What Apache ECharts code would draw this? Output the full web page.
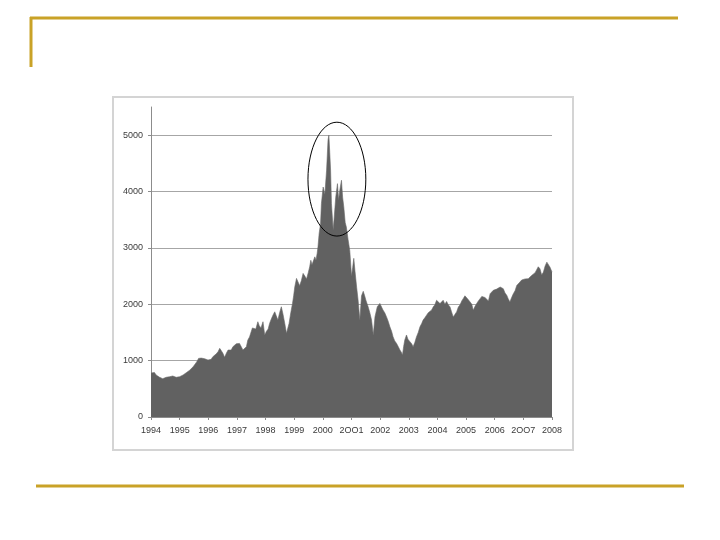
<!DOCTYPE html>
<html>
<head>
<meta charset="utf-8">
<script src="https://cdn.jsdelivr.net/npm/echarts@6/dist/echarts.min.js"></script>
<style>
html,body{margin:0;padding:0;background:#fff;}
#chart{width:720px;height:540px;}
</style>
</head>
<body>
<div id="chart"></div>
<script>
// Decimal years (time positions) of the index readings
var years = [
1994.00,1994.06,1994.12,1994.18,1994.24,1994.30,1994.36,1994.41,1994.47,1994.53,1994.59,1994.65,1994.70,1994.76,1994.82,1994.88,1994.94,
1995.00,1995.06,1995.12,1995.17,1995.23,1995.29,1995.35,1995.41,1995.47,1995.52,1995.57,1995.62,1995.66,1995.70,1995.75,1995.81,1995.87,1995.93,1995.99,
1996.05,1996.10,1996.16,1996.22,1996.28,1996.34,1996.40,1996.45,1996.51,1996.57,1996.63,1996.69,1996.74,1996.80,1996.86,1996.92,1996.98,
1997.03,1997.09,1997.15,1997.21,1997.27,1997.33,1997.38,1997.44,1997.48,1997.54,1997.60,1997.66,1997.73,1997.78,1997.84,1997.91,1997.97,
1998.03,1998.09,1998.14,1998.20,1998.26,1998.32,1998.37,1998.43,1998.49,1998.55,1998.61,1998.67,1998.73,1998.77,1998.82,1998.88,1998.94,1998.98,
1999.02,1999.08,1999.13,1999.19,1999.25,1999.31,1999.37,1999.43,1999.49,1999.54,1999.58,1999.62,1999.66,1999.72,1999.76,1999.80,1999.83,1999.87,1999.92,1999.95,
2000.01,2000.07,2000.13,2000.18,2000.21,2000.24,2000.27,2000.30,2000.36,2000.39,2000.45,2000.51,2000.55,2000.59,2000.65,2000.69,2000.73,2000.78,2000.82,2000.88,2000.94,
2001.00,2001.04,2001.08,2001.12,2001.18,2001.23,2001.29,2001.35,2001.41,2001.46,2001.50,2001.58,2001.64,2001.70,2001.76,2001.82,2001.90,2001.99,
2002.05,2002.10,2002.16,2002.22,2002.28,2002.34,2002.40,2002.45,2002.51,2002.57,2002.63,2002.69,2002.74,2002.78,2002.82,2002.86,2002.92,2002.97,
2003.04,2003.10,2003.15,2003.21,2003.27,2003.33,2003.39,2003.45,2003.50,2003.56,2003.62,2003.68,2003.74,2003.80,2003.85,2003.91,2003.97,
2004.03,2004.09,2004.14,2004.20,2004.26,2004.32,2004.38,2004.44,2004.49,2004.55,2004.61,2004.67,2004.73,2004.79,2004.85,2004.90,2004.96,
2005.02,2005.08,2005.14,2005.20,2005.25,2005.31,2005.37,2005.43,2005.49,2005.55,2005.60,2005.66,2005.72,2005.78,2005.84,2005.90,2005.95,
2006.01,2006.07,2006.13,2006.19,2006.25,2006.30,2006.36,2006.42,2006.47,2006.53,2006.59,2006.65,2006.71,2006.77,2006.82,2006.88,2006.94,
2007.00,2007.06,2007.12,2007.17,2007.23,2007.29,2007.35,2007.41,2007.47,2007.52,2007.58,2007.64,2007.70,2007.76,2007.82,2007.87,2007.93,2007.97,2008.00
];
// Index values
var values = [
780,775,790,745,725,704,715,680,695,704,725,715,740,727,735,704,700,
715,727,745,762,785,803,830,863,890,922,960,998,1040,1023,1045,1010,1035,1028,1010,
1040,1023,1070,1100,1120,1158,1218,1180,1130,1058,1130,1188,1218,1188,1247,1276,1300,
1335,1306,1276,1188,1158,1247,1365,1420,1484,1580,1600,1560,1690,1620,1580,1690,1455,
1520,1560,1660,1740,1808,1867,1800,1720,1850,1956,1820,1660,1484,1450,1660,1850,2015,2150,
2310,2459,2400,2330,2420,2548,2500,2450,2560,2665,2780,2700,2725,2842,2780,2902,3020,3257,3434,3790,
4080,3950,4380,4910,5000,4700,4380,3790,3320,3500,3900,4140,3850,4020,4200,3900,3730,3450,3370,3150,2950,
2500,2650,2815,2600,2300,2075,1720,2150,2230,2150,2075,1956,1850,1720,1455,1780,1956,2015,
1950,1897,1850,1780,1700,1600,1520,1425,1350,1307,1250,1188,1150,1100,1250,1365,1455,1380,
1336,1300,1247,1320,1425,1500,1600,1659,1720,1760,1806,1850,1865,1900,1950,1990,2071,
2105,2012,2040,2071,2000,2050,1990,1953,1870,1776,1820,1865,1950,1990,2060,2100,2150,
2130,2080,2041,2000,1894,1960,2012,2060,2100,2140,2159,2120,2130,2060,2188,2220,2247,
2250,2270,2260,2306,2330,2276,2200,2159,2100,2041,2120,2188,2240,2335,2370,2394,2430,
2424,2450,2424,2453,2470,2512,2540,2560,2571,2665,2629,2520,2571,2680,2747,2776,2659,2688,2571
];
var xTickLabels = ['1994','1995','1996','1997','1998','1999','2000','2OO1','2002','2003','2004','2005','2006','2OO7','2008'];
var yTicks = [0,1000,2000,3000,4000,5000];
var yAxisMax = 5500;
var highlight = {year: 2000.49, value: 4220, halfYears: 1.01, halfValue: 1010};

var seriesData = years.map(function(y, i){ return [y, values[i]]; });

var chart = echarts.init(document.getElementById('chart'), null, {renderer:'canvas'});
var labelFont = {fontFamily:'Liberation Sans', fontSize:9, color:'#3a3a3a'};
chart.setOption({
  animation:false,
  backgroundColor:'#ffffff',
  grid:{left:151, right:168, top:107, bottom:123, containLabel:false},
  xAxis:{
    type:'value', min:1994, max:2008, interval:1,
    axisLine:{show:true, lineStyle:{color:'#8c8c8c', width:1}},
    axisTick:{show:true, length:3, lineStyle:{color:'#8c8c8c'}},
    splitLine:{show:false},
    axisLabel:Object.assign({margin:9, formatter:function(v){ return xTickLabels[Math.round(v-1994)]; }}, labelFont)
  },
  yAxis:{
    type:'value', min:0, max:yAxisMax, interval:1000,
    axisLine:{show:true, lineStyle:{color:'#8c8c8c', width:1}},
    axisTick:{show:true, length:3, customValues:yTicks, lineStyle:{color:'#8c8c8c'}},
    splitLine:{show:true, lineStyle:{color:'#a6a6a6', width:1}},
    axisLabel:Object.assign({margin:8, customValues:yTicks, formatter:function(v){ return String(v); }}, labelFont)
  },
  series:[{
    type:'line', data:seriesData, showSymbol:false, symbol:'none', sampling:null,
    lineStyle:{width:0.6, color:'#686868'},
    areaStyle:{color:'#616161', opacity:1},
    z:3
  }]
});

function drawDecor(){
  var c = chart.convertToPixel({gridIndex:0}, [highlight.year, highlight.value]);
  var e = chart.convertToPixel({gridIndex:0}, [highlight.year + highlight.halfYears, highlight.value + highlight.halfValue]);
  var rx = Math.abs(e[0]-c[0]), ry = Math.abs(c[1]-e[1]);
  var gold = '#c9a227';
  chart.setOption({graphic:[
    {type:'rect', shape:{x:113, y:97, width:460, height:353}, style:{fill:'none', stroke:'#d4d4d4', lineWidth:2}, z:1, silent:true},
    {type:'ellipse', shape:{cx:c[0], cy:c[1], rx:rx, ry:ry}, style:{fill:'none', stroke:'#000', lineWidth:1}, z:10, silent:true},
    {type:'line', shape:{x1:30, y1:18, x2:678, y2:18}, style:{stroke:gold, lineWidth:3}, silent:true},
    {type:'line', shape:{x1:31, y1:17, x2:31, y2:67}, style:{stroke:gold, lineWidth:3}, silent:true},
    {type:'line', shape:{x1:36, y1:486, x2:684, y2:486}, style:{stroke:gold, lineWidth:3}, silent:true}
  ]});
}
drawDecor();
</script>
</body>
</html>
